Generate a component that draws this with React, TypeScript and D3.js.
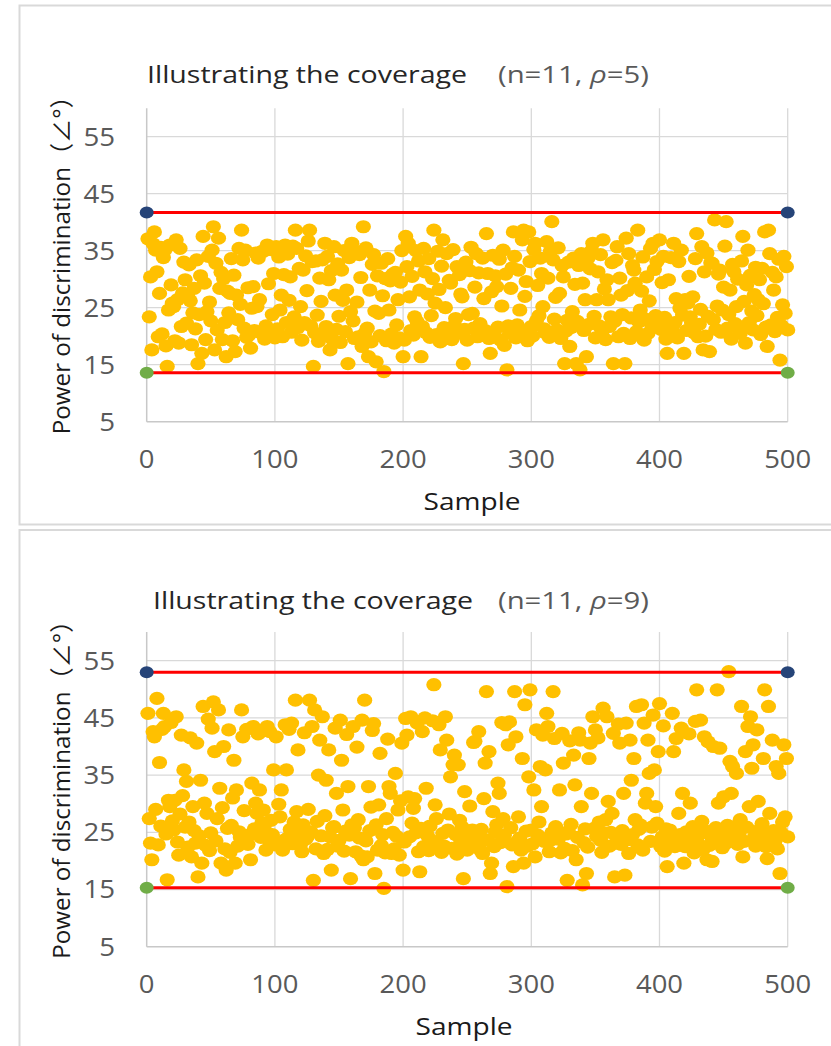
import React from "react";
import * as d3 from "d3";

// x axis = sample index, y axis = power of discrimination (degrees)
const sampleTicks = [0, 100, 200, 300, 400, 500];
const valueTicks = [5, 15, 25, 35, 45, 55];

// rho = 5 panel, samples 1..500
const rho5Values = [
  37.1, 23.4, 30.4, 17.6, 36.2, 38.3, 35.1, 31.3, 19.9, 27.5,
  35.6, 20.4, 33.8, 35.1, 18.3, 14.7, 24.6, 36.0, 29.0, 25.8,
  25.2, 19.2, 36.9, 26.4, 18.8, 35.4, 21.7, 27.6, 33.0, 29.9,
  22.3, 27.0, 32.5, 26.2, 18.5, 24.1, 28.4, 21.3, 33.4, 15.2,
  23.8, 30.6, 17.0, 37.5, 29.3, 19.4, 24.3, 34.0, 26.0, 22.7,
  35.1, 39.2, 17.6, 32.8, 21.1, 37.2, 28.4, 31.2, 19.4, 30.1,
  22.4, 16.4, 27.9, 24.1, 27.5, 33.6, 19.2, 30.7, 17.3, 27.2,
  22.9, 35.4, 25.6, 38.6, 33.4, 21.4, 35.1, 19.8, 28.5, 20.3,
  17.9, 24.9, 28.7, 21.0, 34.6, 25.2, 33.7, 26.4, 20.6, 34.9,
  34.9, 19.5, 21.8, 36.0, 29.2, 20.9, 35.2, 23.8, 31.0, 19.7,
  35.7, 21.3, 33.9, 24.6, 27.2, 19.9, 30.8, 36.0, 22.4, 34.4,
  26.3, 30.4, 20.7, 35.8, 23.4, 38.6, 35.4, 21.5, 31.9, 25.2,
  19.3, 31.6, 22.4, 34.1, 28.0, 36.7, 38.6, 21.8, 33.1, 14.7,
  20.6, 33.2, 23.7, 19.1, 30.2, 26.1, 33.4, 20.3, 36.3, 21.7,
  34.0, 29.9, 17.6, 31.5, 19.4, 35.7, 27.2, 21.2, 32.7, 23.5,
  18.9, 31.6, 26.3, 35.0, 20.8, 28.1, 15.2, 33.8, 24.3, 36.3,
  22.7, 19.6, 34.8, 26.0, 19.9, 34.3, 30.3, 18.2, 39.2, 20.5,
  35.5, 21.4, 16.4, 28.1, 19.0, 32.6, 34.3, 24.4, 15.5, 30.6,
  24.0, 20.1, 32.8, 27.1, 13.8, 30.1, 19.2, 33.6, 24.6, 29.7,
  20.4, 30.9, 18.8, 31.2, 22.0, 26.4, 19.7, 29.5, 35.0, 16.4,
  19.3, 37.5, 32.2, 36.3, 26.9, 21.0, 30.5, 20.2, 23.4, 35.0,
  22.5, 33.2, 28.1, 16.4, 21.7, 35.4, 31.3, 20.6, 27.4, 33.6,
  19.8, 23.6, 30.1, 38.6, 25.8, 20.3, 34.9, 28.2, 19.0, 32.3,
  36.9, 21.5, 25.0, 34.5, 20.0, 29.8, 29.3, 19.4, 35.2, 21.9,
  23.1, 32.2, 20.5, 30.8, 27.4, 26.9, 15.2, 21.2, 33.0, 19.3,
  23.8, 31.5, 35.6, 24.0, 21.4, 28.6, 34.5, 19.9, 31.1, 22.2,
  20.1, 33.7, 26.6, 21.0, 38.0, 31.0, 19.6, 17.0, 27.8, 34.2,
  20.4, 30.6, 28.7, 21.6, 33.5, 19.3, 25.3, 35.1, 18.4, 30.9,
  14.1, 21.8, 20.5, 28.4, 32.0, 38.3, 34.0, 19.7, 22.0, 31.6,
  24.6, 20.8, 36.9, 38.6, 27.0, 29.6, 19.2, 38.3, 33.1, 21.7,
  20.0, 35.2, 36.3, 22.7, 28.9, 23.6, 33.7, 31.0, 25.2, 21.3,
  20.6, 36.6, 30.2, 19.8, 34.9, 40.1, 33.4, 23.0, 26.8, 21.1,
  35.5, 27.5, 19.6, 32.4, 30.4, 15.2, 20.9, 22.8, 33.0, 18.2,
  21.5, 24.3, 33.7, 29.1, 15.2, 22.6, 32.4, 14.1, 34.5, 29.3,
  21.0, 26.4, 16.4, 33.6, 22.1, 31.8, 35.0, 36.3, 23.5, 19.7,
  26.4, 31.3, 21.8, 34.3, 20.6, 36.9, 28.3, 19.4, 29.9, 26.4,
  21.7, 23.4, 32.9, 15.2, 22.6, 33.3, 35.7, 19.9, 30.2, 27.2,
  23.8, 20.5, 15.2, 37.2, 28.0, 34.5, 19.6, 23.2, 32.4, 31.6,
  29.3, 20.8, 38.6, 22.5, 24.6, 27.9, 33.9, 19.3, 23.0, 30.4,
  20.5, 26.2, 35.4, 21.9, 36.3, 31.7, 23.6, 33.1, 22.8, 36.9,
  21.2, 29.4, 34.0, 23.3, 19.5, 17.0, 29.9, 21.7, 33.8, 20.9,
  36.3, 22.4, 26.6, 19.7, 33.1, 24.9, 35.1, 23.7, 17.0, 26.4,
  21.0, 25.8, 30.5, 23.4, 22.3, 26.9, 20.6, 33.6, 38.0, 19.9,
  22.1, 24.7, 35.7, 17.6, 31.3, 20.0, 34.6, 23.5, 17.3, 32.9,
  32.8, 22.9, 40.4, 21.2, 25.3, 30.9, 31.6, 20.7, 24.6, 28.6,
  35.8, 40.1, 21.4, 23.8, 28.1, 19.5, 32.6, 31.3, 22.2, 25.2,
  30.0, 21.7, 20.5, 33.2, 37.5, 26.1, 18.8, 29.0, 35.1, 22.4,
  30.7, 24.4, 21.1, 27.3, 32.1, 23.6, 26.4, 29.9, 20.3, 31.9,
  25.7, 38.3, 21.6, 18.2, 38.6, 34.5, 22.0, 31.2, 28.1, 20.8,
  30.4, 23.3, 33.5, 15.8, 21.9, 25.5, 34.0, 24.0, 32.2, 21.1,
];

// rho = 9 panel, samples 1..500
const rho9Values = [
  45.8, 27.4, 23.1, 20.2, 42.6, 41.7, 29.0, 48.4, 22.8, 37.2,
  26.1, 43.0, 45.8, 43.5, 24.7, 16.7, 30.6, 29.5, 44.2, 27.0,
  25.4, 30.6, 45.2, 23.3, 21.0, 28.2, 42.0, 31.4, 35.9, 25.9,
  33.9, 22.4, 26.8, 41.5, 20.7, 29.5, 25.3, 23.1, 40.6, 17.2,
  24.4, 34.1, 19.6, 47.0, 30.1, 22.7, 28.3, 44.8, 21.8, 24.9,
  43.2, 47.8, 39.1, 23.5, 27.4, 46.4, 32.7, 19.6, 29.3, 40.0,
  22.1, 18.4, 25.7, 42.9, 21.5, 26.2, 31.0, 37.6, 19.6, 32.4,
  22.6, 25.1, 24.2, 46.4, 41.7, 28.8, 23.4, 43.0, 22.9, 24.5,
  20.2, 33.6, 43.5, 25.6, 30.1, 28.3, 42.2, 32.4, 24.1, 26.7,
  28.9, 25.4, 21.9, 43.5, 23.7, 42.6, 27.1, 24.6, 35.9, 22.8,
  41.7, 23.2, 29.9, 27.7, 32.4, 21.9, 23.6, 43.8, 35.9, 24.0,
  43.0, 25.5, 44.1, 23.0, 26.8, 48.1, 28.6, 39.4, 24.7, 22.9,
  21.6, 26.3, 42.4, 23.8, 24.2, 29.0, 48.1, 25.1, 43.5, 16.6,
  46.4, 22.1, 26.9, 35.0, 41.1, 24.4, 45.2, 21.3, 27.9, 34.1,
  22.0, 39.4, 24.2, 18.4, 25.8, 26.0, 43.2, 31.8, 22.6, 23.6,
  44.6, 37.6, 28.9, 21.7, 25.2, 42.1, 33.0, 24.5, 16.9, 26.3,
  43.5, 25.8, 21.6, 39.9, 27.2, 24.0, 20.9, 44.6, 20.2, 48.1,
  23.5, 20.7, 33.0, 25.3, 29.4, 42.8, 44.0, 17.8, 26.3, 21.9,
  29.8, 38.8, 22.7, 24.6, 15.2, 21.4, 27.4, 41.3, 33.0, 31.8,
  21.3, 25.0, 22.1, 35.3, 24.3, 28.9, 21.0, 30.5, 40.6, 18.4,
  23.3, 44.9, 42.0, 31.2, 24.2, 45.2, 26.6, 29.2, 30.9, 24.9,
  44.1, 21.6, 18.1, 25.7, 42.6, 22.5, 45.0, 32.7, 24.4, 21.8,
  26.1, 23.6, 44.5, 50.8, 29.8, 27.4, 23.0, 43.8, 39.4, 21.5,
  24.8, 22.6, 45.2, 41.1, 25.4, 28.2, 34.7, 22.2, 36.8, 38.5,
  24.6, 21.2, 36.8, 27.1, 23.5, 25.9, 16.9, 32.1, 22.8, 21.9,
  24.2, 29.6, 23.0, 25.4, 40.7, 40.9, 23.1, 24.7, 42.6, 22.0,
  25.5, 21.3, 30.9, 37.1, 49.6, 23.7, 39.1, 17.8, 19.6, 28.6,
  22.5, 25.1, 26.3, 33.6, 31.8, 23.2, 44.2, 27.4, 24.5, 43.8,
  15.5, 40.3, 44.3, 25.8, 22.8, 19.0, 49.6, 41.7, 23.4, 27.7,
  24.0, 21.9, 37.9, 19.6, 47.3, 25.2, 22.6, 34.7, 49.9, 25.4,
  23.0, 32.4, 20.7, 42.9, 24.5, 26.8, 36.5, 29.5, 42.0, 23.4,
  35.9, 45.8, 43.5, 21.6, 23.6, 24.9, 49.6, 41.4, 26.0, 25.4,
  23.8, 32.4, 21.4, 42.3, 37.1, 22.2, 24.7, 16.6, 25.1, 41.0,
  26.4, 21.8, 38.5, 33.3, 20.2, 24.1, 42.4, 41.1, 29.5, 15.8,
  23.2, 25.6, 17.8, 22.4, 37.9, 40.6, 31.8, 45.2, 25.7, 42.9,
  24.3, 41.5, 26.8, 23.6, 21.5, 46.7, 24.9, 27.2, 45.2, 30.4,
  22.6, 25.0, 28.3, 42.3, 17.2, 24.4, 23.1, 43.9, 40.6, 22.9,
  25.3, 31.8, 17.5, 44.1, 23.7, 21.3, 41.1, 34.1, 24.6, 37.9,
  27.2, 47.0, 22.8, 25.5, 26.3, 47.3, 21.9, 44.1, 30.1, 31.8,
  41.1, 35.3, 23.4, 25.9, 45.5, 35.9, 29.5, 26.6, 39.1, 47.5,
  22.5, 24.2, 43.6, 21.7, 25.6, 19.0, 22.9, 25.4, 24.0, 45.8,
  39.1, 22.5, 41.4, 23.8, 28.3, 24.6, 43.2, 31.8, 19.6, 22.5,
  25.1, 23.6, 42.2, 30.1, 24.8, 26.0, 21.4, 44.4, 49.9, 23.1,
  24.7, 44.6, 26.9, 22.0, 41.7, 25.2, 20.2, 40.8, 22.7, 24.4,
  19.9, 40.0, 23.5, 25.8, 49.9, 30.1, 39.7, 24.8, 22.3, 31.2,
  25.4, 23.1, 26.2, 53.1, 37.4, 31.8, 36.5, 24.0, 26.0, 35.3,
  22.9, 24.5, 27.2, 47.0, 20.7, 23.4, 39.1, 25.9, 43.5, 29.5,
  45.2, 36.2, 40.3, 24.2, 22.6, 42.9, 30.4, 25.4, 23.7, 26.5,
  37.9, 49.9, 22.5, 20.4, 47.0, 28.3, 24.6, 41.1, 25.3, 23.4,
  36.5, 22.1, 35.3, 17.8, 24.9, 26.8, 40.3, 27.7, 37.9, 24.2,
];

// coverage bounds (max / min lines)
const rho5Bounds = [41.7, 13.6];
const rho9Bounds = [53.0, 15.3];

const FONT = "'Open Sans', 'Noto Sans CJK JP', sans-serif";

function Panel({ values, bounds, rho, frameTop, plotTop, plotBottom, titleX, titleY, sampleX }) {
  const x = d3.scaleLinear().domain([0, 500]).range([146.7, 787.7]);
  const y = d3.scaleLinear().domain([5, 55]).range([plotBottom, plotTop]);
  const yTop = y(60);
  const [hi, lo] = bounds;

  return (
    <g>
      <rect x={19.5} y={frameTop} width={830} height={519} fill="#fff" stroke="#d9d9d9" strokeWidth={2} />

      <text x={titleX} y={titleY} fontFamily={FONT} fontSize={24} fill="#262626" textLength={320} lengthAdjust="spacingAndGlyphs">
        Illustrating the coverage
      </text>
      <text x={498} y={titleY} fontFamily={FONT} fontSize={24} fill="#595959" textLength={151} lengthAdjust="spacingAndGlyphs">
        (n=11, <tspan fontStyle="italic">ρ</tspan>={rho})
      </text>

      {valueTicks.slice(1).map(v => (
        <line key={"h" + v} x1={x(0)} x2={x(500)} y1={y(v)} y2={y(v)} stroke="#d9d9d9" strokeWidth={1.3} />
      ))}
      {sampleTicks.slice(1).map(s => (
        <line key={"v" + s} x1={x(s)} x2={x(s)} y1={yTop} y2={y(5)} stroke="#d9d9d9" strokeWidth={1.3} />
      ))}
      <line x1={x(0)} x2={x(0)} y1={yTop} y2={y(5)} stroke="#c8c8c8" strokeWidth={1.5} />
      <line x1={x(0)} x2={x(500)} y1={y(5)} y2={y(5)} stroke="#c8c8c8" strokeWidth={1.5} />

      {valueTicks.map(v => (
        <text key={"yt" + v} x={115} y={y(v) + 8.8} textAnchor="end" fontFamily={FONT} fontSize={25} fill="#595959"
          textLength={String(v).length * 15.8} lengthAdjust="spacingAndGlyphs">{v}</text>
      ))}
      {sampleTicks.map(s => (
        <text key={"xt" + s} x={x(s)} y={y(5) + 46.5} textAnchor="middle" fontFamily={FONT} fontSize={25} fill="#595959"
          textLength={String(s).length * 15.7} lengthAdjust="spacingAndGlyphs">{s}</text>
      ))}

      {values.map((v, i) => (
        <ellipse key={i} cx={x(i + 1)} cy={y(v)} rx={7.6} ry={6.6} fill="#ffc000" />
      ))}

      <line x1={x(0)} x2={x(500)} y1={y(hi)} y2={y(hi)} stroke="#ff0000" strokeWidth={3} />
      <line x1={x(0)} x2={x(500)} y1={y(lo)} y2={y(lo)} stroke="#ff0000" strokeWidth={3} />
      {[0, 500].map(s => (
        <g key={"e" + s}>
          <ellipse cx={x(s)} cy={y(hi)} rx={7} ry={6} fill="#264478" />
          <ellipse cx={x(s)} cy={y(lo)} rx={7} ry={6} fill="#70ad47" />
        </g>
      ))}

      <text x={sampleX} y={y(5) + 88} textAnchor="middle" fontFamily={FONT} fontSize={24} fill="#1a1a1a"
        textLength={97} lengthAdjust="spacingAndGlyphs">Sample</text>
      <text transform={`translate(70,${(y(5) + y(55)) / 2 - 20}) rotate(-90)`} textAnchor="middle" fontFamily={FONT}
        fontSize={24} fill="#1a1a1a" textLength={350} lengthAdjust="spacingAndGlyphs">
        Power of discrimination（∠°）
      </text>
    </g>
  );
}

export default function App() {
  return (
    <svg width={831} height={1046} style={{ position: "absolute", left: 0, top: 0, background: "#fff" }}>
      <rect width={831} height={1046} fill="#fff" />
      <Panel values={rho5Values} bounds={rho5Bounds} rho={5} frameTop={5.5} plotTop={136.7} plotBottom={421.7}
        titleX={147} titleY={83} sampleX={472} />
      <Panel values={rho9Values} bounds={rho9Bounds} rho={9} frameTop={530} plotTop={660.7} plotBottom={946.7}
        titleX={153} titleY={609} sampleX={464} />
    </svg>
  );
}
